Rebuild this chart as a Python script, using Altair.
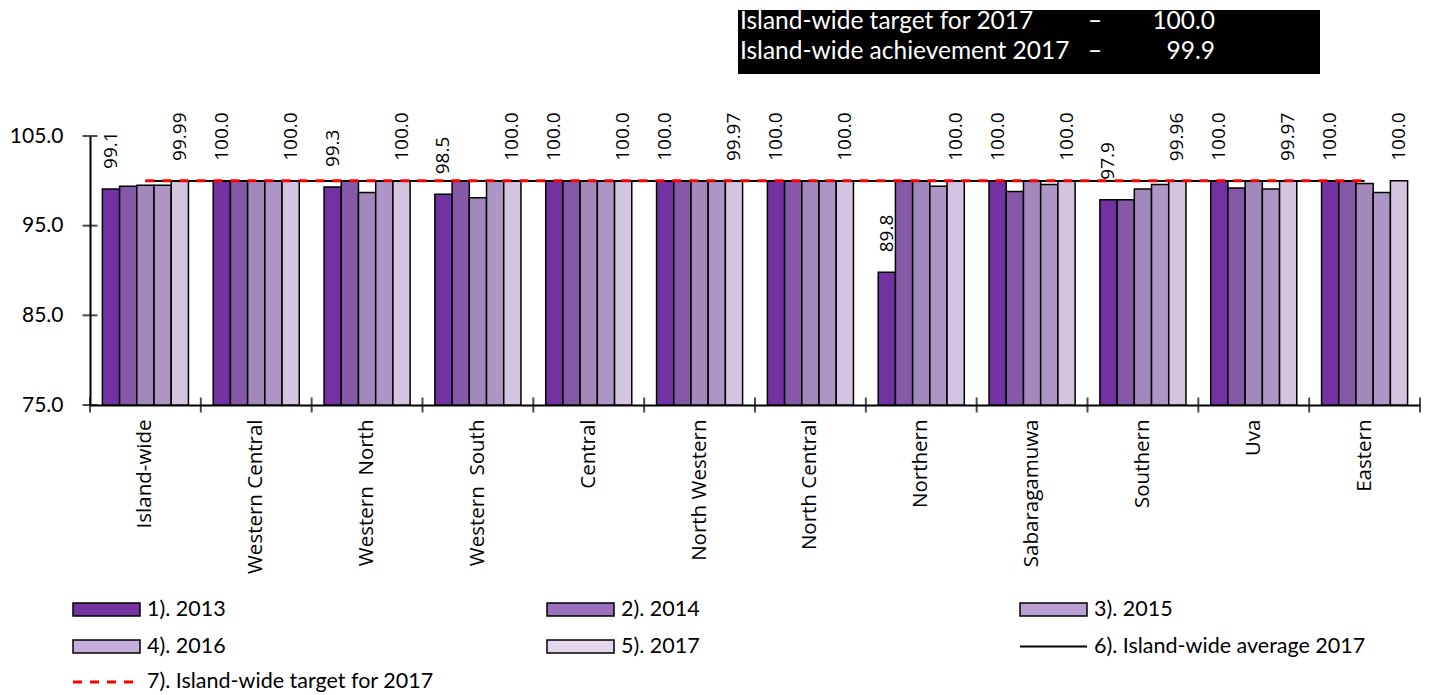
import altair as alt
import pandas as pd

categories = ["Island-wide", "Western Central", "Western \u00a0North", "Western \u00a0South",
              "Central", "North Western", "North Central", "Northern",
              "Sabaragamuwa", "Southern", "Uva", "Eastern"]
years = ["2013", "2014", "2015", "2016", "2017"]

v2013 = [99.1, 100.0, 99.3, 98.5, 100.0, 100.0, 100.0, 89.8, 100.0, 97.9, 100.0, 100.0]
v2014 = [99.4, 100.0, 100.0, 100.0, 100.0, 100.0, 100.0, 100.0, 98.8, 97.9, 99.2, 100.0]
v2015 = [99.5, 100.0, 98.7, 98.1, 100.0, 100.0, 100.0, 100.0, 100.0, 99.1, 100.0, 99.7]
v2016 = [99.5, 100.0, 100.0, 100.0, 100.0, 100.0, 100.0, 99.4, 99.6, 99.6, 99.1, 98.7]
v2017 = [99.99, 100.0, 100.0, 100.0, 100.0, 99.97, 100.0, 100.0, 100.0, 99.96, 99.97, 100.0]

labels2013 = ["99.1", "100.0", "99.3", "98.5", "100.0", "100.0", "100.0", "89.8", "100.0", "97.9", "100.0", "100.0"]
labels2017 = ["99.99", "100.0", "100.0", "100.0", "100.0", "99.97", "100.0", "100.0", "100.0", "99.96", "99.97", "100.0"]

island_avg_2017 = 99.99
island_target_2017 = 100.0

y_ticks = [75.0, 85.0, 95.0, 105.0]

legend_labels = ["1). 2013", "2). 2014", "3). 2015", "4). 2016", "5). 2017",
                 "6). Island-wide average 2017", "7). Island-wide target for 2017"]
box_lines = [("Island-wide target for 2017", "–", "100.0"),
             ("Island-wide achievement 2017", "–", "99.9")]

bar_colors = ["#7232A2", "#8559A8", "#A388BC", "#AD95C6", "#D3C5E0"]
legend_colors = ["#7334A2", "#9B70BC", "#BBA0D3", "#C5ADDA", "#E2D7EC"]

# ---------------- data tables ----------------
series = [v2013, v2014, v2015, v2016, v2017]
rows = []
for yr, vals in zip(years, series):
    for c, v in zip(categories, vals):
        rows.append({"cat": c, "year": yr, "value": v})
df = pd.DataFrame(rows)

lab_rows = []
for c, v, l in zip(categories, v2013, labels2013):
    lab_rows.append({"cat": c, "year": "2013", "value": v, "label": l})
for c, v, l in zip(categories, v2017, labels2017):
    lab_rows.append({"cat": c, "year": "2017", "value": v, "label": l})
df_lab = pd.DataFrame(lab_rows)

df_line = pd.DataFrame({"cat": categories,
                        "avg": [island_avg_2017] * len(categories),
                        "target": [island_target_2017] * len(categories)})
df_yt = pd.DataFrame({"v": y_ticks})
df_cat = pd.DataFrame({"cat": categories})
one = pd.DataFrame({"a": [0]})

W, H = 1330, 269

xscale = alt.Scale(domain=categories, paddingInner=0, paddingOuter=0)
yscale = alt.Scale(domain=[75, 105], nice=False, zero=False)
offscale = alt.Scale(domain=years, paddingInner=0, paddingOuter=0.72)

xaxis = alt.Axis(title=None, labelAngle=270, labelFont="Open Sans", labelFontSize=20.5,
                 labelColor="black", ticks=False, domainColor="black", domainWidth=2,
                 labelPadding=14, labelAlign="right", labelBaseline="middle", grid=False)
yaxis = alt.Axis(title=None, values=y_ticks, format=".1f", labelFont="Lato", labelFontSize=21,
                 labelColor="black", ticks=False, domainColor="black", domainWidth=2,
                 labelPadding=27, grid=False)

bars = alt.Chart(df).mark_bar(stroke="black", strokeWidth=1.5).encode(
    x=alt.X("cat:N", scale=xscale, axis=xaxis),
    xOffset=alt.XOffset("year:N", scale=offscale),
    y=alt.Y("value:Q", scale=yscale, axis=yaxis),
    y2=alt.datum(75),
    fill=alt.Fill("year:N", scale=alt.Scale(domain=years, range=bar_colors), legend=None),
)

avg_line = alt.Chart(df_line).mark_line(color="black", strokeWidth=2).encode(
    x=alt.X("cat:N", scale=xscale), y=alt.Y("avg:Q", scale=yscale))
target_line = alt.Chart(df_line).mark_line(color="#FF0000", strokeWidth=3, strokeDash=[9, 8]).encode(
    x=alt.X("cat:N", scale=xscale), y=alt.Y("target:Q", scale=yscale))

texts = alt.Chart(df_lab).mark_text(angle=270, align="left", baseline="middle", dx=20,
                                    font="Open Sans", fontSize=19, color="black").encode(
    x=alt.X("cat:N", scale=xscale),
    xOffset=alt.XOffset("year:N", scale=offscale),
    y=alt.Y("value:Q", scale=yscale),
    text="label:N",
)

ytick = alt.Chart(df_yt).mark_tick(orient="horizontal", size=15, thickness=2, color="black").encode(
    y=alt.Y("v:Q", scale=yscale), x=alt.value(0))
xtick = alt.Chart(df_cat).mark_tick(orient="vertical", size=15, thickness=2, color="black").encode(
    x=alt.X("cat:N", scale=xscale, bandPosition=0), y=alt.datum(75))
xtick_end = alt.Chart(one).mark_tick(orient="vertical", size=15, thickness=2, color="black").encode(
    x=alt.value(W), y=alt.datum(75))

# ---------------- info box (top right) ----------------
box_layers = [alt.Chart(one).mark_rect(color="black").encode(
    x=alt.value(648), x2=alt.value(1230), y=alt.value(-126), y2=alt.value(-62))]
for i, (t1, t2, t3) in enumerate(box_lines):
    yb = -107 + 30 * i
    box_layers.append(alt.Chart(one).mark_text(align="left", baseline="alphabetic", font="Lato",
                                               fontSize=24.5, color="white", text=t1).encode(
        x=alt.value(650), y=alt.value(yb)))
    box_layers.append(alt.Chart(one).mark_text(align="left", baseline="alphabetic", font="Lato",
                                               fontSize=24.5, color="white", text=t2).encode(
        x=alt.value(998), y=alt.value(yb)))
    box_layers.append(alt.Chart(one).mark_text(align="right", baseline="alphabetic", font="Lato",
                                               fontSize=24.5, color="white", text=t3).encode(
        x=alt.value(1125), y=alt.value(yb)))

# ---------------- legend ----------------
leg_layers = []
col_x = [-17, 457, 930]
row_y = [473.5, 510.5, 546]
for i, lab in enumerate(legend_labels):
    r, c = divmod(i, 3)
    sx, sy = col_x[c], row_y[r]
    if i < 5:
        leg_layers.append(alt.Chart(one).mark_rect(fill=legend_colors[i], stroke="black", strokeWidth=1.5).encode(
            x=alt.value(sx), x2=alt.value(sx + 67), y=alt.value(sy - 6.5), y2=alt.value(sy + 6.5)))
    elif i == 5:
        leg_layers.append(alt.Chart(one).mark_rule(color="black", strokeWidth=2).encode(
            x=alt.value(sx), x2=alt.value(sx + 67), y=alt.value(sy)))
    else:
        leg_layers.append(alt.Chart(one).mark_rule(color="#FF0000", strokeWidth=3, strokeDash=[9, 8]).encode(
            x=alt.value(sx), x2=alt.value(sx + 67), y=alt.value(sy)))
    leg_layers.append(alt.Chart(one).mark_text(align="left", baseline="middle", font="Lato",
                                               fontSize=21.5, color="black", text=lab).encode(
        x=alt.value(sx + 74), y=alt.value(sy)))

chart = alt.layer(bars, avg_line, target_line, texts, ytick, xtick, xtick_end,
                  *box_layers, *leg_layers).properties(
    width=W, height=H,
    autosize=alt.AutoSizeParams(type="none"),
    padding={"left": 90, "top": 136, "right": 12, "bottom": 290},
).configure_view(stroke=None)

chart.save("out.html", embed_options={"renderer": "svg", "actions": False})
